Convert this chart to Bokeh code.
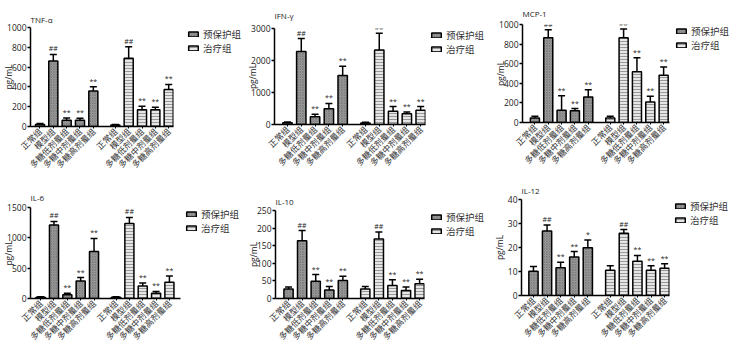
import math
from bokeh.plotting import figure
from bokeh.models import (Range1d, FixedTicker, Legend, LegendItem,
                          ColumnDataSource, Whisker, TeeHead)
from bokeh.layouts import column, row
from bokeh.embed import file_html
from bokeh.resources import INLINE
from bokeh.core.properties import value

# ---------------- data ----------------
CATEGORIES = ["正常组", "模型组", "多糖低剂量组", "多糖中剂量组", "多糖高剂量组"]
GROUPS = ["预保护组", "治疗组"]
TITLES = ["TNF-α", "IFN-γ", "MCP-1", "IL-6", "IL-10", "IL-12"]
Y_LABEL = "pg/mL"

TNF_PRE = [20, 662, 64, 62, 358]
TNF_PRE_ERR = [10, 66, 22, 22, 44]
TNF_TRT = [14, 690, 170, 170, 373]
TNF_TRT_ERR = [6, 116, 35, 24, 52]
TNF_TICKS = [0, 200, 400, 600, 800, 1000]

IFN_PRE = [55, 2281, 246, 492, 1534]
IFN_PRE_ERR = [25, 403, 78, 167, 285]
IFN_TRT = [50, 2330, 413, 334, 442]
IFN_TRT_ERR = [20, 521, 147, 59, 118]
IFN_TICKS = [0, 1000, 2000, 3000]

MCP_PRE = [47, 865, 126, 119, 261]
MCP_PRE_ERR = [16, 82, 148, 23, 72]
MCP_TRT = [47, 865, 519, 208, 481]
MCP_TRT_ERR = [16, 88, 141, 59, 85]
MCP_TICKS = [0, 200, 400, 600, 800, 1000]

IL6_PRE = [20, 1210, 61, 290, 773]
IL6_PRE_ERR = [8, 61, 25, 56, 218]
IL6_TRT = [20, 1235, 208, 86, 269]
IL6_TRT_ERR = [8, 102, 46, 31, 102]
IL6_TICKS = [0, 500, 1000, 1500]

IL10_PRE = [27, 164, 49, 24, 51]
IL10_PRE_ERR = [6, 29, 19, 10, 12]
IL10_TRT = [27, 169, 37, 23, 42]
IL10_TRT_ERR = [7, 20, 16, 10, 13]
IL10_TICKS = [0, 50, 100, 150, 200, 250]

IL12_PRE = [10.1, 26.9, 11.6, 16.0, 19.9]
IL12_PRE_ERR = [2.0, 2.5, 2.3, 2.3, 3.2]
IL12_TRT = [10.5, 25.9, 14.3, 10.5, 11.4]
IL12_TRT_ERR = [1.9, 1.6, 2.4, 1.9, 1.8]
IL12_TICKS = [0, 10, 20, 30, 40]

SIG_STD = ["", "##", "**", "**", "**"]
SIG_IL12_PRE = ["", "##", "**", "**", "*"]

PANELS = [
    (TNF_PRE, TNF_PRE_ERR, TNF_TRT, TNF_TRT_ERR, TNF_TICKS, SIG_STD, SIG_STD),
    (IFN_PRE, IFN_PRE_ERR, IFN_TRT, IFN_TRT_ERR, IFN_TICKS, SIG_STD, SIG_STD),
    (MCP_PRE, MCP_PRE_ERR, MCP_TRT, MCP_TRT_ERR, MCP_TICKS, SIG_STD, SIG_STD),
    (IL6_PRE, IL6_PRE_ERR, IL6_TRT, IL6_TRT_ERR, IL6_TICKS, SIG_STD, SIG_STD),
    (IL10_PRE, IL10_PRE_ERR, IL10_TRT, IL10_TRT_ERR, IL10_TICKS, SIG_STD, SIG_STD),
    (IL12_PRE, IL12_PRE_ERR, IL12_TRT, IL12_TRT_ERR, IL12_TICKS, SIG_IL12_PRE, SIG_STD),
]

# ---------------- layout / style ----------------
GROUP_GAP = 5.65
X_PRE = [i for i in range(5)]
X_TRT = [i + GROUP_GAP for i in range(5)]
BAR_W = 0.68

PANEL_W = 244          # total width of one panel (chart + legend strip)
FIG_H = 196            # canvas height (bottom part overlaps next row)
ROW_STEP = 172         # vertical distance between rows
# fl/ft/fb/fr: frame left/top/bottom/right inside the panel; xr: x range;
# tst: title standoff; ls: y-label standoff; lgx/lgy: legend top-left
LAYOUT = [
    dict(fl=26, ft=16, fb=126, fr=173, xr=(-0.71, 10.01), tst=6, ls=-10, lgx=187, lgy=27),
    dict(fl=29, ft=27, fb=124, fr=181, xr=(-0.94, 10.00), tst=15, ls=-10, lgx=186, lgy=28),
    dict(fl=34, ft=21, fb=122, fr=181, xr=(-0.93, 10.09), tst=11, ls=-10, lgx=187, lgy=22),
    dict(fl=26, ft=32, fb=126, fr=180, xr=(-0.76, 10.48), tst=9, ls=-10, lgx=185, lgy=35),
    dict(fl=26, ft=28, fb=126, fr=180, xr=(-0.96, 10.01), tst=7, ls=-5, lgx=186, lgy=38),
    dict(fl=33, ft=22, fb=123, fr=181, xr=(-0.88, 10.01), tst=7, ls=0, lgx=186, lgy=27),
]

NUM_FONT = "Open Sans"
CJK_FONT = "Noto Sans CJK SC"

PRE_STYLE = dict(fill_color="#a2a2a2", hatch_pattern="diagonal_cross", hatch_scale=2.6,
                 hatch_color="#666666", hatch_weight=0.6, line_color="black", line_width=1.5)
TRT_STYLE = dict(fill_color="#e6e6e6", hatch_pattern="horizontal_line", hatch_scale=3.0,
                 hatch_color="#858585", hatch_weight=0.8, line_color="black", line_width=1.5)


def sources(idx):
    pre, pre_err, trt, trt_err, ticks, sig_pre, sig_trt = PANELS[idx]
    src_pre = ColumnDataSource(dict(x=X_PRE, top=pre, up=[m + e for m, e in zip(pre, pre_err)], sig=sig_pre))
    src_trt = ColumnDataSource(dict(x=X_TRT, top=trt, up=[m + e for m, e in zip(trt, trt_err)], sig=sig_trt))
    return src_pre, src_trt


def make_chart(idx):
    ticks = PANELS[idx][4]
    L = LAYOUT[idx]
    chart_w = L["fr"] + 1
    p = figure(width=chart_w, height=FIG_H, output_backend="svg", toolbar_location=None,
               x_range=Range1d(*L["xr"]), y_range=Range1d(ticks[0], ticks[-1]),
               min_border_left=L["fl"], min_border_right=1, min_border_top=L["ft"],
               min_border_bottom=FIG_H - L["fb"], title=TITLES[idx])
    p.outline_line_color = None
    p.border_fill_color = None
    p.background_fill_color = None
    p.xgrid.visible = False
    p.ygrid.visible = False

    p.title.align = "left"
    p.title.offset = 0
    p.title.standoff = L["tst"]
    p.title.text_font = NUM_FONT
    p.title.text_font_size = "8px"
    p.title.text_font_style = "normal"
    p.title.text_color = "#222222"

    src_pre, src_trt = sources(idx)

    for src in (src_pre, src_trt):
        p.add_layout(Whisker(source=src, base="x", lower="top", upper="up", line_width=1.5,
                             line_color="black", level="glyph", lower_head=None,
                             upper_head=TeeHead(size=7, line_width=1.5, line_color="black")))

    p.vbar(x="x", top="top", bottom=0, width=BAR_W, source=src_pre, **PRE_STYLE)
    p.vbar(x="x", top="top", bottom=0, width=BAR_W, source=src_trt, **TRT_STYLE)

    for src in (src_pre, src_trt):
        p.text(x="x", y="up", text="sig", source=src, text_align="center", text_baseline="bottom",
               y_offset=-1, text_font=value(NUM_FONT), text_font_size="7px", text_color="#222222")

    ya = p.yaxis[0]
    ya.ticker = FixedTicker(ticks=ticks)
    ya.minor_tick_line_color = None
    ya.major_tick_in = 0
    ya.major_tick_out = 3
    ya.major_label_standoff = 1
    ya.axis_line_width = 1.5
    ya.major_tick_line_width = 1.5
    ya.major_label_text_font = NUM_FONT
    ya.major_label_text_font_size = "8.5px"
    ya.major_label_text_color = "#222222"
    ya.axis_label = Y_LABEL
    ya.axis_label_standoff = L["ls"]
    ya.axis_label_text_font = NUM_FONT
    ya.axis_label_text_font_size = "8.5px"
    ya.axis_label_text_font_style = "normal"
    ya.axis_label_text_color = "#222222"

    xa = p.xaxis[0]
    xs = X_PRE + X_TRT
    xa.ticker = FixedTicker(ticks=xs)
    xa.major_label_overrides = {x: c for x, c in zip(xs, CATEGORIES + CATEGORIES)}
    xa.major_label_orientation = math.pi / 4
    xa.minor_tick_line_color = None
    xa.major_tick_in = 0
    xa.major_tick_out = 2
    xa.major_label_standoff = 1
    xa.axis_line_width = 1.5
    xa.major_tick_line_width = 1
    xa.major_label_text_font = CJK_FONT
    xa.major_label_text_font_size = "8.5px"
    xa.major_label_text_color = "#333333"
    return p


def make_legend(idx):
    L = LAYOUT[idx]
    chart_w = L["fr"] + 1
    w = PANEL_W - chart_w
    # legend strip: the panel's bars as hidden renderers, shown only as legend swatches
    q = figure(width=w, height=FIG_H, output_backend="svg", toolbar_location=None,
               x_axis_location=None, y_axis_location=None,
               x_range=Range1d(*L["xr"]), y_range=Range1d(-2, -1),
               min_border_left=max(L["lgx"] - chart_w, 0), min_border_top=L["lgy"],
               min_border_right=0, min_border_bottom=0)
    q.outline_line_color = None
    q.border_fill_color = None
    q.background_fill_color = None
    q.grid.visible = False
    src_pre, src_trt = sources(idx)
    r1 = q.vbar(x="x", top="top", bottom=0, width=BAR_W, source=src_pre, **PRE_STYLE)
    r2 = q.vbar(x="x", top="top", bottom=0, width=BAR_W, source=src_trt, **TRT_STYLE)
    r1.visible = False
    r2.visible = False
    legend = Legend(items=[LegendItem(label=GROUPS[0], renderers=[r1]),
                           LegendItem(label=GROUPS[1], renderers=[r2])],
                    location="top_left", padding=0, margin=0, spacing=0,
                    glyph_width=12, glyph_height=6, label_height=10, label_standoff=4,
                    label_text_font=CJK_FONT, label_text_font_size="9.5px",
                    label_text_color="#333333", inactive_fill_alpha=0,
                    border_line_alpha=0, background_fill_alpha=0)
    q.add_layout(legend)
    return q


panels = [row(make_chart(i), make_legend(i), spacing=0) for i in range(6)]
overlap = FIG_H - ROW_STEP
row1 = row(*panels[0:3], spacing=0)
row2 = row(*panels[3:6], spacing=0, margin=(-overlap, 0, -(FIG_H - 170), 0))
layout = column(row1, row2, spacing=0)

open("out.html", "w").write(file_html(layout, INLINE))
